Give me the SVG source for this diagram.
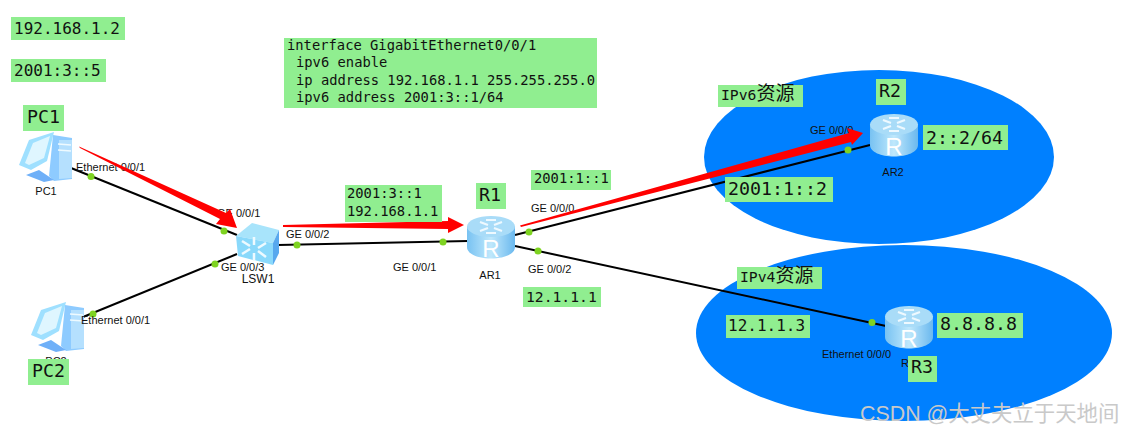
<svg xmlns="http://www.w3.org/2000/svg" xmlns:xlink="http://www.w3.org/1999/xlink" width="1123" height="434" viewBox="0 0 1123 434">
<style>
.lb{fill:#90ee90}
.mono{font-family:"DejaVu Sans Mono","Noto Sans CJK SC",monospace;fill:#111;white-space:pre}
.m14{font-size:13.8px}
.m15{font-size:14.7px}
.m16{font-size:16px}
.m18{font-size:18.300px}
.cjk{font-size:19px;font-family:"Noto Sans CJK SC",sans-serif}
.sans{font-family:"Liberation Sans",Arial,sans-serif;fill:#111}
.p{font-size:11px}
.n{font-size:12px}
.ln{stroke:#000;stroke-width:2;fill:none}
.dot{fill:#7ed321}
.red{fill:#f00}
</style>
<defs>
<linearGradient id="rb" x1="0" x2="1" y1="0" y2="0"><stop offset="0" stop-color="#78c2f2"/><stop offset=".5" stop-color="#bfe8fc"/><stop offset="1" stop-color="#6ab8ee"/></linearGradient>
<g id="router">
<path d="M0 10V31C0 38 11 42.500 24 42.500S48 38 48 31V10Z" fill="url(#rb)"/>
<ellipse cx="24" cy="10.500" rx="24" ry="10.500" fill="#a9dcf8"/>
<path d="M13 6l8 3M35 6l-8 3M13 15l8-3M35 15l-8-3M19 4h10M19 17h10" stroke="#eef9ff" stroke-width="2.200" fill="none"/>
<text x="24" y="41" text-anchor="middle" font-family="Liberation Sans,sans-serif" font-size="24" fill="#fff">R</text>
</g>
<g id="pc">
<path d="M34 3L53 6V47L35 49L30 44Z" fill="#8ecbff"/>
<path d="M40 8L53 8V46L40 47Z" fill="#b5e0fe"/>
<path d="M39 12l13 1M39 18l13 1" stroke="#eefaff" stroke-width="1.500"/>
<path d="M0 33L10 8L35 0L28 29L12 38Z" fill="#9fe0ff"/>
<path d="M6 31L14 11L31 4L25 26L10 33Z" fill="#dff6ff"/>
<path d="M7 43L20 38L35 48L25 50Z" fill="#6fb0f8"/>
</g>
<g id="switch">
<path d="M0 13L16 0L43 7L37 20Z" fill="#a8e4fb"/>
<path d="M0 13L37 20V42L2 33Z" fill="#8ad9fb"/>
<path d="M37 20L43 7V30L37 42Z" fill="#58a8ee"/>
<path d="M6 18l8 5M6 31l8-5M30 20l-8 5M30 34l-8-6M18 14v8M18 38v-8" stroke="#eefaff" stroke-width="2.500" fill="none"/>
</g>
</defs>
<rect width="1123" height="434" fill="#fff"/>
<g id="clouds">
<ellipse id="cloud-ipv6" cx="879" cy="157" rx="175" ry="87" fill="#0080ff"/>
<ellipse id="cloud-ipv4" cx="904" cy="333" rx="208" ry="88" fill="#0080ff"/>
</g>
<g id="connectors">
<path class="ln" d="M71 168L237 235"/>
<path class="ln" d="M83 317L237 254"/>
<path class="ln" d="M278 245L468 241"/>
<path class="ln" d="M515 235L870 145"/>
<path class="ln" d="M515 246L886 326"/>
<circle class="dot" cx="91" cy="176.500" r="3.500"/>
<circle class="dot" cx="224" cy="231" r="3.500"/>
<circle class="dot" cx="297" cy="245" r="3.500"/>
<circle class="dot" cx="215" cy="264" r="3.500"/>
<circle class="dot" cx="93" cy="314" r="3.500"/>
<circle class="dot" cx="443" cy="242" r="3.500"/>
<circle class="dot" cx="529" cy="232" r="3.500"/>
<circle class="dot" cx="538" cy="251" r="3.500"/>
<circle class="dot" cx="848" cy="150" r="3.500"/>
<circle class="dot" cx="872" cy="322.500" r="3.500"/>
</g>
<g id="node-pc1"><use xlink:href="#pc" href="#pc" x="19" y="132"/><text class="sans p" x="46" y="195" text-anchor="middle">PC1</text></g>
<g id="node-pc2"><use xlink:href="#pc" href="#pc" x="31" y="302"/><text class="sans p" x="56" y="365" text-anchor="middle">PC2</text></g>
<g id="node-lsw1"><use xlink:href="#switch" href="#switch" x="236" y="223"/><text class="sans n" x="258" y="283" text-anchor="middle">LSW1</text></g>
<g id="node-ar1"><use xlink:href="#router" href="#router" x="467" y="216"/><text class="sans p" x="490" y="279" text-anchor="middle">AR1</text></g>
<g id="node-ar2"><use xlink:href="#router" href="#router" x="870" y="114"/><text class="sans p" x="893" y="176" text-anchor="middle">AR2</text></g>
<g id="node-ar3"><use xlink:href="#router" href="#router" x="885" y="306"/><text class="sans p" x="901" y="367">R</text></g>
<g id="port-labels">
<text class="sans p" x="76" y="171">Ethernet 0/0/1</text>
<text class="sans p" x="217" y="217">GE 0/0/1</text>
<text class="sans p" x="286" y="238">GE 0/0/2</text>
<text class="sans p" x="221" y="271">GE 0/0/3</text>
<text class="sans p" x="81" y="324">Ethernet 0/0/1</text>
<text class="sans p" x="393" y="271">GE 0/0/1</text>
<text class="sans p" x="531" y="212">GE 0/0/0</text>
<text class="sans p" x="528" y="273">GE 0/0/2</text>
<text class="sans p" x="810" y="134">GE 0/0/0</text>
<text class="sans p" x="822" y="358">Ethernet 0/0/0</text>
</g>
<g id="arrows">
<path class="red" d="M79 146.500L80 148L220 219L216 224L237 228L230 209L226 213Z"/>
<path class="red" d="M283 225L448 221V217L464 225L448 233V229L283 227Z"/>
<path class="red" d="M520 225.500L849 133L847 128L863 133L852 145L851 142L521 227Z"/>
</g>
<g id="notes">
<g id="note-ip4"><rect class="lb" x="11" y="17" width="114" height="23"/><text class="mono m16" x="14" y="34">192.168.1.2</text></g>
<g id="note-ip6"><rect class="lb" x="11" y="59" width="95" height="23"/><text class="mono m16" x="14" y="76">2001:3::5</text></g>
<g id="note-pc1"><rect class="lb" x="23" y="105" width="41" height="26"/><text class="mono m18" x="27" y="123">PC1</text></g>
<g id="note-pc2"><rect class="lb" x="28" y="359" width="41" height="26"/><text class="mono m18" x="32" y="377">PC2</text></g>
<g id="note-config"><rect class="lb" x="284" y="38" width="313" height="70"/>
<text class="mono m14" x="287" y="50">interface GigabitEthernet0/0/1</text>
<text class="mono m14" x="296" y="67">ipv6 enable</text>
<text class="mono m14" x="296" y="85">ip address 192.168.1.1 255.255.255.0</text>
<text class="mono m14" x="296" y="102">ipv6 address 2001:3::1/64</text></g>
<g id="note-r1-left"><rect class="lb" x="345" y="185" width="97" height="37"/>
<text class="mono m14" x="347" y="198">2001:3::1</text><text class="mono m14" x="347" y="216">192.168.1.1</text></g>
<g id="note-r1"><rect class="lb" x="476" y="183" width="30" height="26"/><text class="mono m18" x="479" y="201">R1</text></g>
<g id="note-2001-1-1"><rect class="lb" x="531" y="170" width="80" height="20"/><text class="mono m14" x="534" y="183">2001:1::1</text></g>
<g id="note-12-1-1-1"><rect class="lb" x="523" y="287" width="78" height="20"/><text class="mono m15" x="526" y="302">12.1.1.1</text></g>
<g id="note-ipv6"><rect class="lb" x="718" y="85" width="85" height="22"/><text class="mono m15" x="721" y="100">IPv6<tspan class="cjk">资源</tspan></text></g>
<g id="note-r2"><rect class="lb" x="876" y="79" width="30" height="26"/><text class="mono m18" x="879" y="97">R2</text></g>
<g id="note-r2-net"><rect class="lb" x="923" y="125" width="85" height="25"/><text class="mono m18" x="926" y="144">2::2/64</text></g>
<g id="note-2001-1-2"><rect class="lb" x="725" y="177" width="108" height="25"/><text class="mono m18" x="728" y="195">2001:1::2</text></g>
<g id="note-ipv4"><rect class="lb" x="737" y="267" width="85" height="22"/><text class="mono m15" x="740" y="282">IPv4<tspan class="cjk">资源</tspan></text></g>
<g id="note-12-1-1-3"><rect class="lb" x="726" y="315" width="84" height="23"/><text class="mono m16" x="728" y="331">12.1.1.3</text></g>
<g id="note-8888"><rect class="lb" x="937" y="313" width="86" height="25"/><text class="mono m18" x="940" y="330">8.8.8.8</text></g>
<g id="note-r3"><rect class="lb" x="908" y="356" width="29" height="26"/><text class="mono m18" x="911" y="373">R3</text></g>
</g>
<text id="watermark" x="860" y="421" font-size="21.400" font-family="'Liberation Sans','Noto Sans CJK SC',sans-serif" fill="#c9c9c9">CSDN @大丈夫立于天地间</text>
</svg>
